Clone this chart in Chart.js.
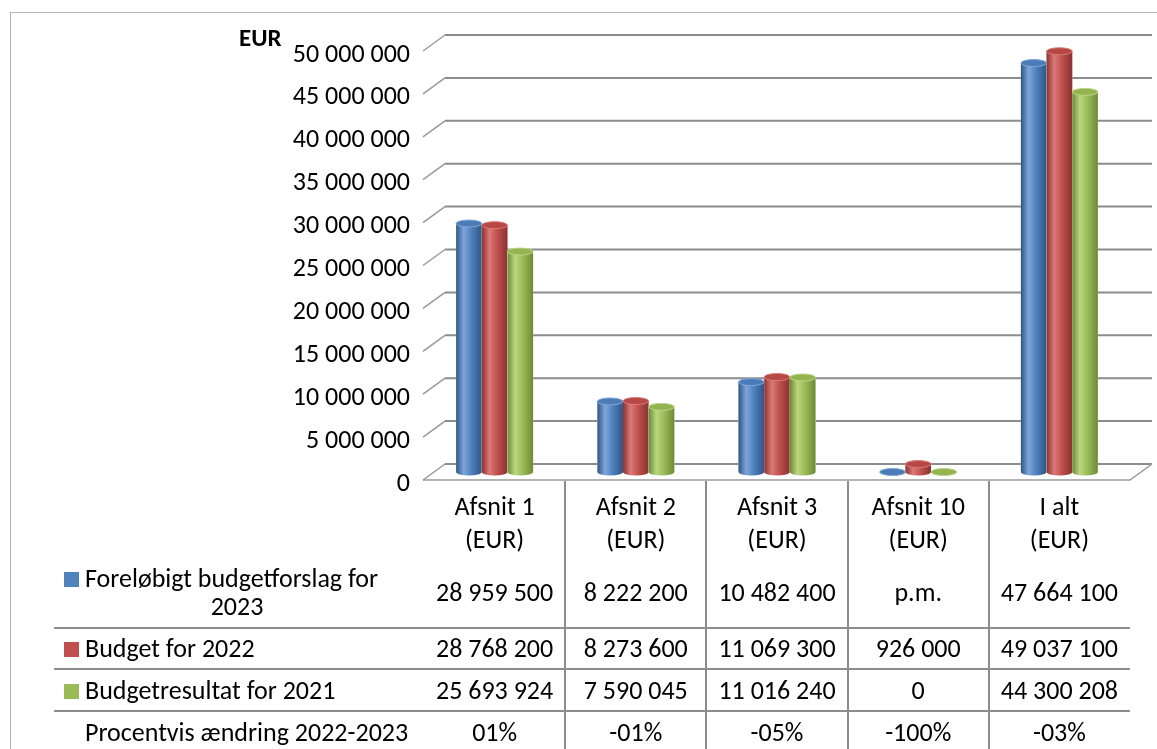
<!DOCTYPE html>
<html>
<head>
<meta charset="utf-8">
<title>Budget</title>
<script src="https://cdn.jsdelivr.net/npm/chart.js@4.4.1/dist/chart.umd.min.js"></script>
<style>
  html, body { margin: 0; padding: 0; background: #fff; }
  #wrap { width: 1157px; height: 749px; }
</style>
</head>
<body>
<div id="wrap"><canvas id="budgetChart" width="1157" height="749"></canvas></div>
<script>
// Data
const categories = [['Afsnit 1', '(EUR)'], ['Afsnit 2', '(EUR)'], ['Afsnit 3', '(EUR)'], ['Afsnit 10', '(EUR)'], ['I alt', '(EUR)']];
const forslag2023 = [28959500, 8222200, 10482400, null, 47664100]; // null = p.m.
const budget2022 = [28768200, 8273600, 11069300, 926000, 49037100];
const resultat2021 = [25693924, 7590045, 11016240, 0, 44300208];
const pctChange = [1, -1, -5, -100, -3];
const seriesNames = [['Foreløbigt budgetforslag for', '2023'], ['Budget for 2022'], ['Budgetresultat for 2021']];
const pctRowName = 'Procentvis ændring 2022-2023';
const yMax = 50000000;
const yStep = 5000000;

const FONT = 'Carlito, Lato, "Open Sans", sans-serif';
const FONT_SIZE = 26;
const palette = [
  { base: '#4f81bd', dark: '#2f5584', light: '#7ea6da', top: '#4b7cb8' },
  { base: '#c0504d', dark: '#8a3230', light: '#da7a77', top: '#b84845' },
  { base: '#9bbb59', dark: '#6c8a36', light: '#bad67f', top: '#94b452' }
];

// 3D depth of the floor/walls (front -> back)
const DX = 22, DY = 16;

const fmt = v => v === null ? 'p.m.' : String(v).replace(/\B(?=(\d{3})+(?!\d))/g, ' ');
const fmtPct = p => (p < 0 ? '-' : '') + String(Math.abs(p)).padStart(2, '0') + '%';

// back walls, grid lines and floor
const wallPlugin = {
  id: 'walls',
  beforeDatasetsDraw(chart) {
    const { ctx, chartArea: a, scales: { y } } = chart;
    ctx.save();
    for (let v = 0; v <= yMax; v += yStep) {
      const p = y.getPixelForValue(v);
      const front = p + DY / 2, back = p - DY / 2;
      ctx.strokeStyle = '#8c8c8c';
      ctx.lineWidth = 2;
      ctx.beginPath();
      ctx.moveTo(a.left + DX - 1, back);
      ctx.lineTo(a.right + DX, back);
      ctx.stroke();
      ctx.strokeStyle = '#9a9a9a';
      ctx.lineWidth = 1.5;
      ctx.beginPath();
      ctx.moveTo(a.left - 1, front);
      ctx.lineTo(a.left + DX - 1, back);
      ctx.stroke();
      if (v === 0) {
        ctx.beginPath();
        ctx.moveTo(a.left - 1, front);
        ctx.lineTo(a.right, front);
        ctx.lineTo(a.right + DX, back);
        ctx.stroke();
      }
    }
    ctx.restore();
  }
};

// turn the flat bars into cylinders
const cylinderPlugin = {
  id: 'cylinders',
  afterDatasetsDraw(chart) {
    const ctx = chart.ctx;
    chart.data.datasets.forEach((ds, di) => {
      const c = palette[di];
      chart.getDatasetMeta(di).data.forEach(bar => {
        const { x, y, base, width } = bar.getProps(['x', 'y', 'base', 'width'], true);
        const l = x - width / 2, r = x + width / 2, ry = 3.5;
        const g = ctx.createLinearGradient(l, 0, r, 0);
        g.addColorStop(0, c.dark);
        g.addColorStop(0.3, c.light);
        g.addColorStop(0.6, c.base);
        g.addColorStop(1, c.dark);
        ctx.save();
        ctx.beginPath();
        ctx.ellipse(x, base, width / 2, ry, 0, 0, Math.PI);
        ctx.lineTo(l, y);
        ctx.lineTo(r, y);
        ctx.closePath();
        ctx.clearRect(l, y, width, base - y);
        ctx.fillStyle = '#fff';
        ctx.fill();
        ctx.fillStyle = g;
        ctx.fill();
        ctx.beginPath();
        ctx.ellipse(x, y, width / 2, ry, 0, 0, Math.PI * 2);
        ctx.fillStyle = c.top;
        ctx.fill();
        ctx.strokeStyle = c.light;
        ctx.lineWidth = 1;
        ctx.stroke();
        ctx.restore();
      });
    });
  }
};

// data table, EUR label and frame
const tablePlugin = {
  id: 'dataTable',
  afterDraw(chart) {
    const { ctx, chartArea: a, scales: { x } } = chart;
    const floorY = chart.scales.y.getPixelForValue(0) + DY / 2;
    ctx.save();
    // frame
    ctx.strokeStyle = '#b4b4b4';
    ctx.lineWidth = 1;
    ctx.strokeRect(10.5, 12.5, 1300, 900);

    ctx.fillStyle = '#000';
    ctx.font = 'bold 25px ' + FONT;
    ctx.textAlign = 'left';
    ctx.textBaseline = 'middle';
    ctx.fillText('EUR', 239, 40);

    // table grid
    ctx.strokeStyle = '#8c8c8c';
    ctx.lineWidth = 2;
    for (let i = 1; i < categories.length; i++) {
      const bx = Math.round((x.getPixelForValue(i - 1) + x.getPixelForValue(i)) / 2);
      ctx.beginPath();
      ctx.moveTo(bx, floorY + 1);
      ctx.lineTo(bx, 760);
      ctx.stroke();
    }
    [628, 669, 711].forEach(ly => {
      ctx.beginPath();
      ctx.moveTo(54, ly);
      ctx.lineTo(a.right, ly);
      ctx.stroke();
    });

    const rows = [forslag2023, budget2022, resultat2021];
    const rowY = [594, 650, 692];
    ctx.font = FONT_SIZE + 'px ' + FONT;
    rows.forEach((vals, ri) => {
      const name = seriesNames[ri];
      const yy = name.length > 1 ? rowY[ri] - 14 : rowY[ri];
      ctx.fillStyle = palette[ri].base;
      ctx.fillRect(64, yy - 8, 15, 15);
      ctx.fillStyle = '#000';
      ctx.textAlign = 'left';
      ctx.fillText(name[0], 85, yy);
      if (name.length > 1) {
        ctx.textAlign = 'center';
        ctx.fillText(name[1], 237, yy + 28);
      }
      ctx.textAlign = 'center';
      vals.forEach((v, ci) => ctx.fillText(fmt(v), x.getPixelForValue(ci), rowY[ri]));
    });
    ctx.textAlign = 'left';
    ctx.fillText(pctRowName, 85, 734);
    ctx.textAlign = 'center';
    pctChange.forEach((p, ci) => ctx.fillText(fmtPct(p), x.getPixelForValue(ci), 734));
    ctx.restore();
  }
};

new Chart(document.getElementById('budgetChart'), {
  type: 'bar',
  data: {
    labels: categories,
    datasets: [forslag2023, budget2022, resultat2021].map((d, i) => ({
      label: seriesNames[i].join(' '),
      data: d.map(v => v ?? 0),
      backgroundColor: palette[i].base,
      borderWidth: 0,
      categoryPercentage: 0.545,
      barPercentage: 1
    }))
  },
  options: {
    responsive: false,
    animation: false,
    devicePixelRatio: 1,
    layout: { padding: { left: 10, top: 43, right: 27, bottom: 0 } },
    plugins: { legend: { display: false }, tooltip: { enabled: false } },
    scales: {
      x: {
        grid: { display: false, drawTicks: false },
        border: { display: false },
        ticks: { color: '#000', padding: 20, font: { family: FONT, size: FONT_SIZE, lineHeight: 33 / FONT_SIZE } },
        afterFit: s => { s.height = 277; }
      },
      y: {
        min: 0,
        max: yMax,
        grid: { display: false, drawTicks: false },
        border: { display: false },
        ticks: {
          stepSize: yStep,
          color: '#000',
          padding: 14,
          labelOffset: 12,
          font: { family: FONT, size: FONT_SIZE },
          callback: v => fmt(v)
        },
        afterFit: s => { s.width = 414; }
      }
    }
  },
  plugins: [wallPlugin, cylinderPlugin, tablePlugin]
});
</script>
</body>
</html>
